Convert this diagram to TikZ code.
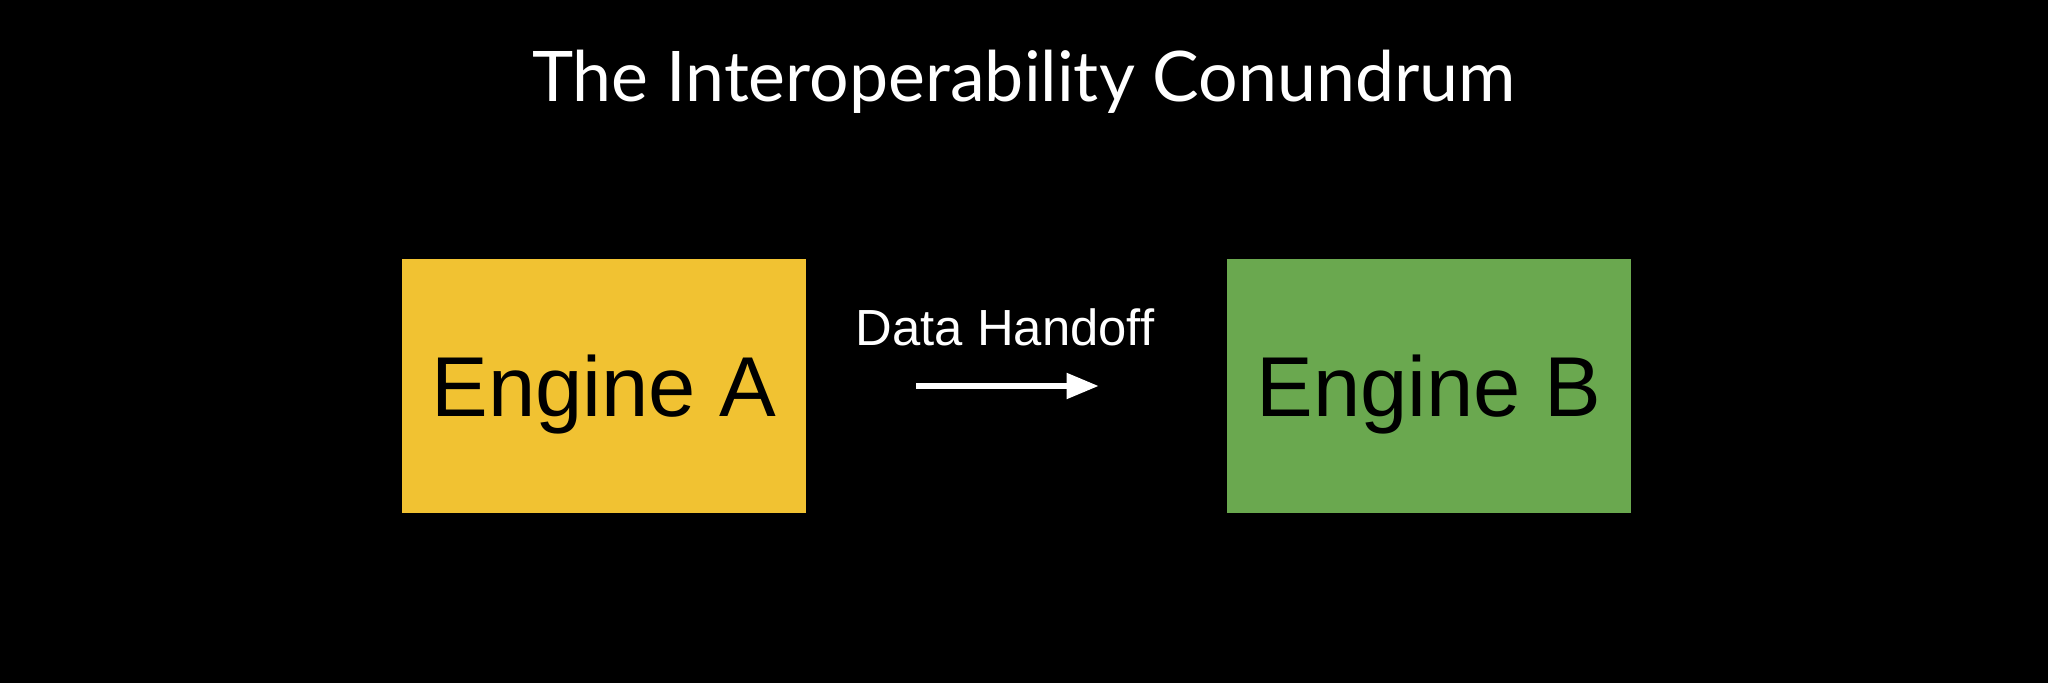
\documentclass[tikz,border=0pt]{standalone}
\usepackage{fontspec}
\setmainfont{Liberation Sans}
\newfontfamily\titlefont{Lato}
\usetikzlibrary{arrows.meta}
\definecolor{engA}{HTML}{F1C232}
\definecolor{engB}{HTML}{6AA84F}
\tikzset{
  engine/.style={rectangle, inner sep=0pt, minimum width=202pt, minimum height=127pt,
    text height=30.5pt, text depth=0pt, font=\fontsize{42.5}{50}\selectfont, text=black},
  flow/.style={draw=white, line width=2.6pt, -{Triangle[length=16pt,width=12.5pt]}},
}
\begin{document}
\begin{tikzpicture}[x=0.5pt,y=-0.5pt]
\fill[black] (0,0) rectangle (2048,683);
\useasboundingbox (0,0) rectangle (2048,683);
\node[anchor=base, text=white, font=\titlefont\fontsize{34.9}{40}\selectfont] (title) at (1024,102) {The Interoperability Conundrum};
\node[engine, fill=engA] (A) at (604,386) {Engine A};
\node[engine, fill=engB] (B) at (1429,386) {Engine B};
\draw[flow, shorten <=55pt, shorten >=64pt] (A.east) -- (B.west);
\node[anchor=base, text=white, font=\fontsize{25.4}{30}\selectfont] (lbl) at (1005,346) {Data Handoff};
\end{tikzpicture}
\end{document}
